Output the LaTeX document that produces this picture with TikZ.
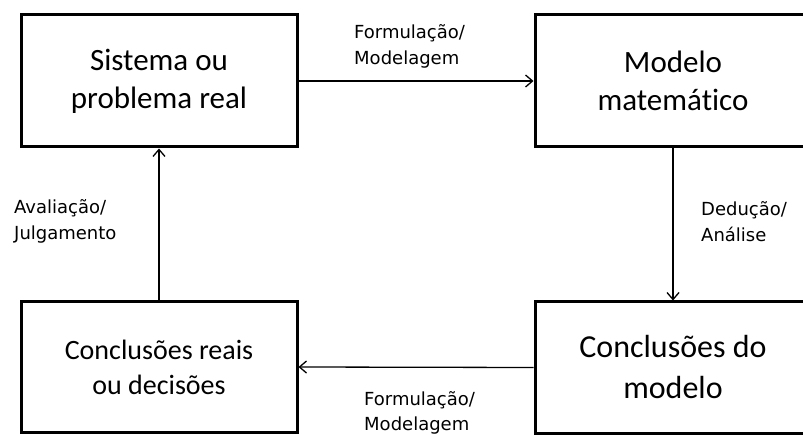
\documentclass[tikz,border=0pt]{standalone}
\usepackage{fontspec}
\setmainfont{Carlito}[Ligatures={NoCommon}]
\newfontfamily\labelfont{DejaVu Sans}
\usetikzlibrary{arrows.meta}
\begin{document}
\begin{tikzpicture}[x=1pt,y=-1pt,
  box/.style={draw,line width=3pt,minimum width=276pt,minimum height=132pt,
              inner sep=0pt,align=center},
  flow/.style={line width=1.3pt,
               -{Straight Barb[length=7pt,width=12pt,line width=1.3pt]}},
  lbl/.style={font=\labelfont\fontsize{18}{25.5}\selectfont,align=left,
              inner sep=0pt,anchor=west}]
\useasboundingbox (0,0) rectangle (803,435);
\clip (0,0) rectangle (803,435);

% the four stages of the modelling cycle
\node[box,font=\fontsize{31}{38}\selectfont] (real) at (159,81)
  {Sistema ou\\problema real};
\node[box,font=\fontsize{31}{38}\selectfont] (model) at (673,81)
  {Modelo\\matemático};
\node[box,font=\fontsize{32}{41}\selectfont,minimum height=131pt] (modconc) at (673,367.5)
  {Conclusões do\\modelo};
\node[box,font=\fontsize{28}{35}\selectfont,minimum height=130pt] (realconc) at (159,367)
  {Conclusões reais\\ou decisões};

% transitions between the stages
\draw[flow] (real.east) -- (model.west);
\draw[flow] (model.south) -- (modconc.north);
\draw[flow] (modconc.west) -- (realconc.east);
\draw[flow] (realconc.north) -- (real.south);

% transition labels
\node[lbl] (l1) at (354,46.5) {Formulação/\\Modelagem};
\node[lbl] (l2) at (701,221.5) {Dedução/\\Análise};
\node[lbl] (l3) at (364,413) {Formulação/\\Modelagem};
\node[lbl] (l4) at (14,221.5) {Avaliação/\\Julgamento};
\end{tikzpicture}
\end{document}
